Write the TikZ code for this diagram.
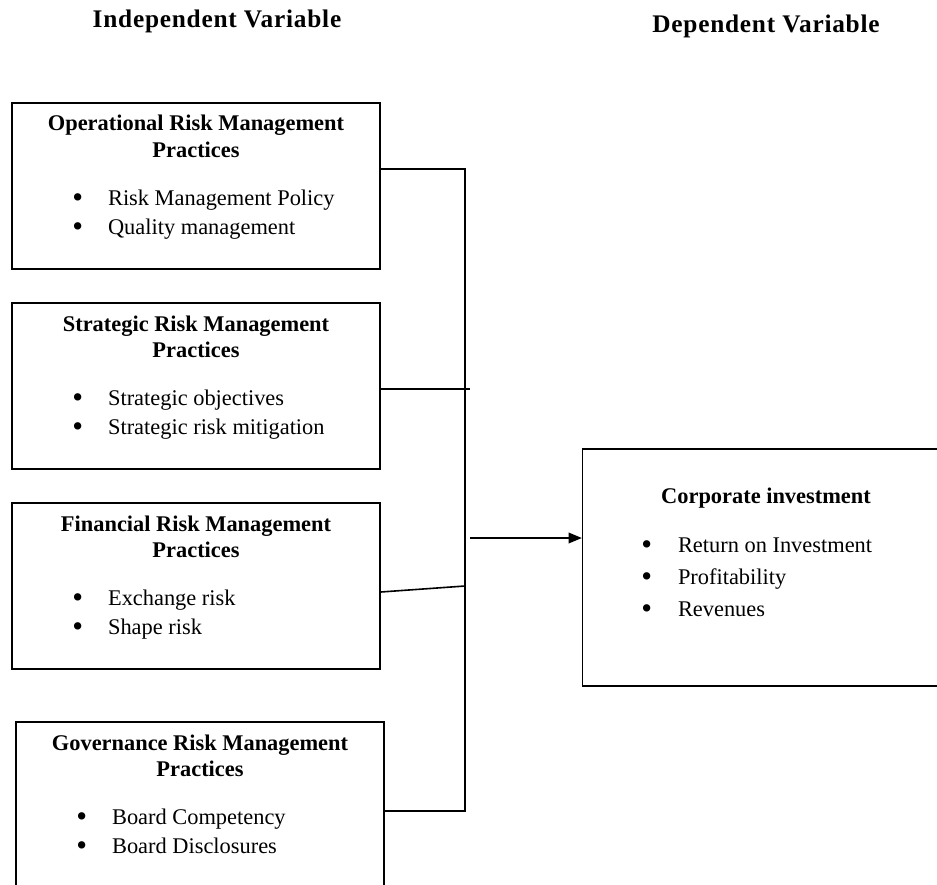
\documentclass[tikz,border=0pt]{standalone}
\usepackage{fontspec}
\setmainfont{Liberation Serif}
\usetikzlibrary{arrows.meta}

\newcommand{\bul}{\raisebox{-1.8pt}{\fontsize{23}{23}\selectfont\textbullet}}

\tikzset{
  varbox/.style={draw,line width=1.2pt,minimum width=276pt,minimum height=124.5pt,inner sep=0pt},
  outbox/.style={draw,line width=1.2pt,minimum width=275pt,minimum height=177.75pt,inner sep=0pt},
  heading/.style={font=\bfseries\fontsize{16.8}{20}\selectfont,anchor=base,inner sep=0pt},
  items/.style={font=\fontsize{16.8}{21.75}\selectfont,anchor=base west,inner sep=0pt},
  coltitle/.style={font=\bfseries\fontsize{19}{22}\selectfont\addfontfeature{LetterSpace=3},anchor=base,inner sep=0pt},
  link/.style={line width=1.2pt}
}

\begin{document}
\begin{tikzpicture}[x=0.75pt,y=-0.75pt]
\useasboundingbox (0,0) rectangle (937,884);
\clip (0,0) rectangle (937,884);
% column titles
\node[coltitle] (indep) at (217,28) {Independent Variable};
\node[coltitle] (dep) at (766,33) {Dependent Variable};
% independent variable boxes
\node[varbox] (op) at (196,186) {};
\node[heading] (ophead) at (196,131) {\begin{tabular}[t]{@{}c@{}}Operational Risk Management\\Practices\end{tabular}};
\node[items] (oplist) at (72,205) {\begin{tabular}[t]{@{}l@{\hspace{18.8pt}}l@{}}\bul & Risk Management Policy\\ \bul & Quality management\end{tabular}};
%
\node[varbox] (str) at (196,386) {};
\node[heading] (strhead) at (196,331) {\begin{tabular}[t]{@{}c@{}}Strategic Risk Management\\Practices\end{tabular}};
\node[items] (strlist) at (72,405) {\begin{tabular}[t]{@{}l@{\hspace{18.8pt}}l@{}}\bul & Strategic objectives\\ \bul & Strategic risk mitigation\end{tabular}};
%
\node[varbox] (fin) at (196,586) {};
\node[heading] (finhead) at (196,531) {\begin{tabular}[t]{@{}c@{}}Financial Risk Management\\Practices\end{tabular}};
\node[items] (finlist) at (72,605) {\begin{tabular}[t]{@{}l@{\hspace{18.8pt}}l@{}}\bul & Exchange risk\\ \bul & Shape risk\end{tabular}};
%
\node[varbox] (gov) at (200,805) {};
\node[heading] (govhead) at (200,750) {\begin{tabular}[t]{@{}c@{}}Governance Risk Management\\Practices\end{tabular}};
\node[items] (govlist) at (76,824) {\begin{tabular}[t]{@{}l@{\hspace{18.8pt}}l@{}}\bul & Board Competency\\ \bul & Board Disclosures\end{tabular}};
% dependent variable box
\node[outbox] (corp) at (766,567.5) {};
\node[heading] (corphead) at (766,503) {Corporate investment};
\node[items,font=\fontsize{16.8}{24}\selectfont] (corplist) at (641,552) {\begin{tabular}[t]{@{}l@{\hspace{19.5pt}}l@{}}\bul & Return on Investment\\ \bul & Profitability\\ \bul & Revenues\end{tabular}};
% connectors
\coordinate (bustop) at (465,169);
\coordinate (busbot) at (465,811);
\coordinate (strjoin) at (470,389);
\coordinate (finjoin) at (465,586);
\coordinate (out) at (470,538);
\draw[link] (op.east |- bustop) -- (bustop) -- (busbot) -- (gov.east |- busbot);
\draw[link] (str.east |- strjoin) -- (strjoin);
\draw[link] ([yshift=-4.5pt]fin.east) -- (finjoin);
\draw[link,-{Triangle[length=10pt,width=8pt]}] (out) -- (corp.west |- out);
\end{tikzpicture}
\end{document}
